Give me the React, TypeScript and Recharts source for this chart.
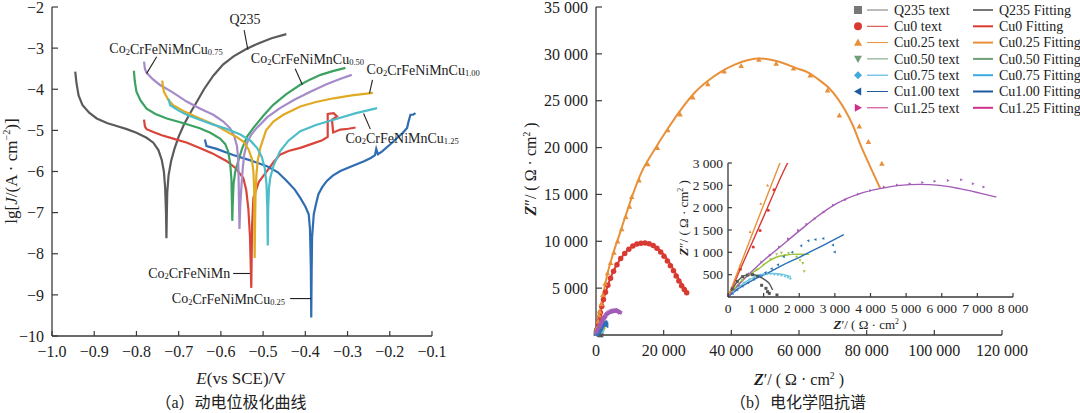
import React from "react";
import {
  ComposedChart,
  Line,
  Scatter,
  XAxis,
  YAxis,
  ReferenceLine,
  ReferenceDot,
} from "recharts";

const SERIF = '"Liberation Serif", "DejaVu Serif", serif';
const CJK = '"Liberation Serif", "Noto Sans CJK SC", serif';
const AX = "#3a3a3a";
const INK = "#222";

// ---------- (a) polarization curves: [E (V vs SCE), lg J] ----------
const E_TICKS = [-1.0, -0.9, -0.8, -0.7, -0.6, -0.5, -0.4, -0.3, -0.2, -0.1];
const LG_TICKS = [-10, -9, -8, -7, -6, -5, -4, -3, -2];

const q235Tafel = [
  [-0.945, -3.57], [-0.942, -3.85], [-0.937, -4.15], [-0.928, -4.38], [-0.912, -4.57],
  [-0.894, -4.71], [-0.87, -4.82], [-0.845, -4.9], [-0.823, -4.97], [-0.8, -5.06],
  [-0.776, -5.18], [-0.76, -5.3], [-0.748, -5.48], [-0.74, -5.72], [-0.735, -6.0],
  [-0.732, -6.4], [-0.73, -7.0], [-0.729, -7.62], [-0.728, -7.0], [-0.727, -6.5],
  [-0.724, -6.1], [-0.718, -5.75], [-0.71, -5.45], [-0.7, -5.15], [-0.688, -4.87],
  [-0.675, -4.62], [-0.66, -4.36], [-0.64, -4.0], [-0.618, -3.67], [-0.595, -3.4],
  [-0.57, -3.2], [-0.54, -3.02], [-0.51, -2.88], [-0.48, -2.76], [-0.445, -2.66],
];
const cu0Tafel = [
  [-0.782, -4.74], [-0.78, -4.9], [-0.776, -4.97], [-0.76, -5.04], [-0.74, -5.12],
  [-0.713, -5.2], [-0.68, -5.3], [-0.65, -5.43], [-0.62, -5.56], [-0.586, -5.75],
  [-0.565, -5.92], [-0.547, -6.16], [-0.54, -6.45], [-0.535, -6.9], [-0.531, -7.6],
  [-0.528, -8.83], [-0.527, -8.0], [-0.526, -7.3], [-0.523, -6.64], [-0.51, -6.25],
  [-0.491, -5.99], [-0.475, -5.77], [-0.46, -5.59], [-0.44, -5.5], [-0.41, -5.42],
  [-0.388, -5.34], [-0.36, -5.24], [-0.347, -5.16], [-0.347, -4.6], [-0.333, -4.58],
  [-0.325, -4.66], [-0.337, -4.74], [-0.334, -5.05], [-0.317, -4.98], [-0.298, -4.96],
  [-0.281, -4.93],
];
const cu025Tafel = [
  [-0.638, -5.22], [-0.634, -5.38], [-0.61, -5.45], [-0.571, -5.6], [-0.53, -5.73],
  [-0.491, -5.87], [-0.465, -6.02], [-0.444, -6.23], [-0.425, -6.44], [-0.412, -6.64],
  [-0.4, -6.85], [-0.392, -7.04], [-0.389, -7.4], [-0.387, -8.3], [-0.386, -9.55],
  [-0.385, -8.4], [-0.384, -7.6], [-0.38, -7.04], [-0.375, -6.8], [-0.369, -6.55],
  [-0.36, -6.38], [-0.349, -6.23], [-0.335, -6.1], [-0.317, -5.99], [-0.29, -5.87],
  [-0.261, -5.75], [-0.245, -5.67], [-0.235, -5.6], [-0.232, -5.45], [-0.228, -5.58],
  [-0.218, -5.51], [-0.2, -5.35], [-0.182, -5.18], [-0.17, -5.07], [-0.159, -4.94],
  [-0.156, -4.8], [-0.151, -4.62], [-0.145, -4.62], [-0.139, -4.58],
];
const cu050Tafel = [
  [-0.806, -3.55], [-0.804, -3.8], [-0.8, -4.06], [-0.79, -4.28], [-0.776, -4.47],
  [-0.755, -4.6], [-0.728, -4.71], [-0.69, -4.82], [-0.65, -4.95], [-0.625, -5.06],
  [-0.602, -5.2], [-0.59, -5.33], [-0.583, -5.5], [-0.578, -5.8], [-0.575, -6.2],
  [-0.574, -6.7], [-0.573, -7.2], [-0.572, -6.8], [-0.57, -6.3], [-0.566, -6.0],
  [-0.559, -5.75], [-0.55, -5.45], [-0.538, -5.15], [-0.523, -4.94], [-0.5, -4.65],
  [-0.476, -4.38], [-0.445, -4.12], [-0.412, -3.89], [-0.388, -3.76], [-0.364, -3.65],
  [-0.335, -3.56], [-0.305, -3.48],
];
const cu075Tafel = [
  [-0.782, -3.33], [-0.78, -3.5], [-0.776, -3.6], [-0.762, -3.75], [-0.745, -3.89],
  [-0.715, -4.07], [-0.681, -4.3], [-0.65, -4.47], [-0.618, -4.62], [-0.595, -4.78],
  [-0.578, -4.95], [-0.568, -5.15], [-0.562, -5.38], [-0.559, -5.7], [-0.558, -6.2],
  [-0.557, -6.8], [-0.556, -7.4], [-0.554, -6.8], [-0.551, -6.3], [-0.548, -5.9],
  [-0.545, -5.6], [-0.538, -5.3], [-0.528, -5.1], [-0.515, -4.94], [-0.49, -4.68],
  [-0.46, -4.46], [-0.425, -4.25], [-0.388, -4.06], [-0.35, -3.88], [-0.318, -3.75],
  [-0.29, -3.65],
];
const cu100Tafel = [
  [-0.739, -3.79], [-0.737, -3.95], [-0.735, -4.06], [-0.725, -4.25], [-0.713, -4.39],
  [-0.685, -4.55], [-0.65, -4.71], [-0.615, -4.86], [-0.586, -5.03], [-0.563, -5.16],
  [-0.547, -5.27], [-0.535, -5.45], [-0.527, -5.68], [-0.523, -6.0], [-0.521, -6.5],
  [-0.521, -7.2], [-0.52, -8.1], [-0.519, -7.2], [-0.518, -6.6], [-0.516, -6.1],
  [-0.513, -5.75], [-0.506, -5.4], [-0.493, -5.0], [-0.475, -4.78], [-0.452, -4.62],
  [-0.412, -4.42], [-0.375, -4.31], [-0.333, -4.22], [-0.29, -4.15], [-0.24, -4.09],
];
const cu125Tafel = [
  [-0.724, -4.23], [-0.722, -4.32], [-0.72, -4.39], [-0.7, -4.52], [-0.681, -4.62],
  [-0.65, -4.74], [-0.618, -4.86], [-0.585, -4.97], [-0.554, -5.1], [-0.53, -5.25],
  [-0.514, -5.43], [-0.503, -5.65], [-0.496, -5.92], [-0.492, -6.3], [-0.49, -6.9],
  [-0.489, -7.8], [-0.488, -6.9], [-0.486, -6.4], [-0.483, -6.15], [-0.475, -5.85],
  [-0.46, -5.51], [-0.44, -5.25], [-0.412, -5.02], [-0.375, -4.87], [-0.333, -4.74],
  [-0.28, -4.58], [-0.23, -4.46],
];

const TAFEL = [
  { key: "q235", rows: q235Tafel, color: "#5b5b5b" },
  { key: "cu0", rows: cu0Tafel, color: "#d9443b" },
  { key: "cu025", rows: cu025Tafel, color: "#2f6db3" },
  { key: "cu050", rows: cu050Tafel, color: "#3ba262" },
  { key: "cu075", rows: cu075Tafel, color: "#a68ac9" },
  { key: "cu100", rows: cu100Tafel, color: "#e0aa22" },
  { key: "cu125", rows: cu125Tafel, color: "#4cbdc9" },
];

// curve labels (anchor point in data units) and their leader lines
const TAFEL_LABELS = [
  { sub: "", text: "Q235", at: [-0.543, -2.31], anchor: "middle", lead: [[-0.545, -2.56], [-0.536, -3.04]] },
  { sub: "0.75", text: "Co2CrFeNiMnCu", at: [-0.73, -3.02], anchor: "middle", lead: [[-0.752, -3.21], [-0.776, -3.62]] },
  { sub: "0.50", text: "Co2CrFeNiMnCu", at: [-0.395, -3.26], anchor: "middle", lead: [[-0.424, -3.5], [-0.407, -3.89]] },
  { sub: "1.00", text: "Co2CrFeNiMnCu", at: [-0.255, -3.52], anchor: "start", lead: [[-0.241, -3.77], [-0.248, -4.1]] },
  { sub: "1.25", text: "Co2CrFeNiMnCu", at: [-0.305, -5.19], anchor: "start", lead: [[-0.262, -4.59], [-0.246, -4.97]] },
  { sub: "", text: "Co2CrFeNiMn", at: [-0.578, -8.48], anchor: "end", lead: [[-0.571, -8.48], [-0.531, -8.48]] },
  { sub: "0.25", text: "Co2CrFeNiMnCu", at: [-0.448, -9.09], anchor: "end", lead: [[-0.436, -9.09], [-0.386, -9.09]] },
];

// ---------- (b) Nyquist: [Z', Z''] in ohm cm2 ----------
const ZR_TICKS = [0, 20000, 40000, 60000, 80000, 100000, 120000];
const ZI_TICKS = [5000, 10000, 15000, 20000, 25000, 30000, 35000];
const IN_ZR_TICKS = [0, 1000, 2000, 3000, 4000, 5000, 6000, 7000, 8000];
const IN_ZI_TICKS = [500, 1000, 1500, 2000, 2500, 3000];

const q235Fit = [
  [0, 0], [100, 150], [220, 300], [364, 430], [500, 490], [692, 505], [850, 470],
  [972, 418], [1080, 360], [1159, 300], [1210, 230], [1252, 157],
];
const q235Test = [
  [120, 180], [260, 350], [411, 455], [551, 493], [690, 500], [830, 465], [944, 262],
  [1065, 194], [1112, 119], [1159, 82], [1374, 45],
];
const cu0Fit = [
  [0, 0], [500, 900], [1000, 1800], [1550, 2800], [2500, 4150], [3500, 5300], [5000, 6700],
  [6500, 7700], [8000, 8500], [10000, 9250], [12000, 9650], [14000, 9800], [16000, 9700],
  [18000, 9300], [20000, 8600], [22000, 7550], [24000, 6250], [25500, 5350], [26800, 4600],
];
const cu0Test = [
  [350, 620], [710, 1120], [900, 1490], [1130, 1940], [1290, 2400], [1700, 3050],
  [2200, 3800], [2800, 4550], [3500, 5300], [4300, 6050], [5200, 6800], [6200, 7500],
  [7300, 8150], [8500, 8700], [9700, 9150], [10900, 9500], [12100, 9700], [13300, 9800],
  [14500, 9820], [15700, 9750], [16900, 9550], [18000, 9250], [19100, 8850], [20100, 8400],
  [21100, 7900], [22000, 7400], [22900, 6850], [23700, 6300], [24500, 5750], [25300, 5250],
  [26100, 4850], [26800, 4500],
];
const cu025Fit = [
  [0, 0], [700, 1450], [1370, 2820], [2200, 4500], [3300, 6400], [5000, 8600], [7100, 10900],
  [9000, 13000], [10500, 14600], [13500, 17400], [17000, 19600], [21000, 21900],
  [25000, 24000], [29000, 25800], [33000, 27100], [37000, 28100], [41000, 28850],
  [45000, 29350], [48500, 29500], [52000, 29350], [55500, 29000], [59000, 28500],
  [63000, 27950], [66000, 27200], [69000, 26300], [71500, 25200], [73600, 24000],
  [76000, 22300], [78000, 20450], [81000, 18000], [84000, 15650],
];
const cu025Test = [
  [340, 710], [620, 1460], [920, 2090], [1110, 2500], [1500, 3300], [2000, 4300],
  [2700, 5500], [3400, 6600], [4300, 7700], [5300, 8800], [6400, 10000], [7600, 11300],
  [8800, 12600], [9900, 13700], [10560, 14750], [12720, 16520], [15290, 18230],
  [18140, 19970], [21220, 21860], [24850, 23560], [28600, 25370], [33040, 26790],
  [37870, 28150], [42900, 28720], [48130, 29400], [53250, 28970], [58370, 28470],
  [63310, 27720], [68430, 26120], [71920, 23450], [77830, 22280], [80520, 20610],
  [84480, 18300],
];
const cu050Fit = [
  [0, 0], [250, 250], [500, 450], [880, 640], [1100, 780], [1350, 890], [1600, 935],
  [1800, 955], [2050, 958], [2280, 955],
];
const cu050Test = [
  [200, 200], [400, 370], [600, 500], [800, 610], [1000, 720], [1200, 840], [1364, 955],
  [1500, 985], [1598, 932], [1700, 975], [1925, 895], [2020, 820], [2100, 755], [2140, 570],
];
const cu075Fit = [
  [0, 0], [250, 180], [505, 343], [700, 430], [879, 493], [1050, 520], [1252, 530],
  [1400, 522], [1533, 507], [1650, 485], [1766, 455],
];
const cu075Test = [
  [150, 110], [300, 230], [450, 320], [600, 390], [750, 450], [900, 490], [1000, 505],
  [1100, 515], [1200, 520], [1300, 510], [1400, 500], [1500, 485], [1600, 465],
  [1680, 440], [1750, 415],
];
const cu100Fit = [
  [0, 0], [300, 190], [700, 380], [1084, 522], [1550, 720], [2019, 895], [2400, 1050],
  [2766, 1194], [3252, 1395],
];
const cu100Test = [
  [120, 80], [250, 160], [400, 240], [560, 320], [720, 400], [880, 470], [1050, 550],
  [1220, 630], [1400, 720], [1560, 900], [1800, 1000], [2050, 1150], [2250, 1260],
  [2450, 1285], [2670, 1310], [2940, 1165], [2990, 1010],
];
const cu125Fit = [
  [0, 0], [450, 400], [897, 746], [1458, 1119], [2019, 1492], [2486, 1790], [3047, 2089],
  [3701, 2313], [4262, 2425], [4822, 2499], [5383, 2521], [5944, 2499], [6505, 2425],
  [7065, 2327], [7533, 2238],
];
const cu125Test = [
  [300, 260], [600, 520], [944, 783], [1178, 932], [1439, 1119], [1692, 1305],
  [1972, 1492], [2206, 1626], [2439, 1753], [2692, 1902], [2953, 2052], [3299, 2178],
  [3654, 2298], [4000, 2387], [4383, 2462], [4748, 2507], [5103, 2537], [5458, 2566],
  [5804, 2589], [6178, 2611], [6551, 2626], [6879, 2537], [7178, 2462],
];

const NYQ = [
  { name: "Q235", fit: q235Fit, test: q235Test, mark: "square", color: "#555555", legend: "#777777" },
  { name: "Cu0", fit: cu0Fit, test: cu0Test, mark: "circle", color: "#d83a32", legend: "#d83a32" },
  { name: "Cu0.25", fit: cu025Fit, test: cu025Test, mark: "up", color: "#e8903a", legend: "#e8903a" },
  { name: "Cu0.50", fit: cu050Fit, test: cu050Test, mark: "down", color: "#9cc43c", legend: "#6f9f79" },
  { name: "Cu0.75", fit: cu075Fit, test: cu075Test, mark: "diamond", color: "#6fc6e0", legend: "#3faae2" },
  { name: "Cu1.00", fit: cu100Fit, test: cu100Test, mark: "left", color: "#2b70b7", legend: "#1f5a9e" },
  { name: "Cu1.25", fit: cu125Fit, test: cu125Test, mark: "right", color: "#a25cb6", legend: "#d0308a" },
];

const toPts = (rows: number[][]) => rows.map(([x, y]) => ({ x, y }));

const fmtE = (v: number) => (v < 0 ? "\u2212" + Math.abs(v).toFixed(1) : v.toFixed(1));
const fmtLg = (v: number) => (v < 0 ? "\u2212" + Math.abs(v) : String(v));
const fmtK = (v: number) => String(v).replace(/\B(?=(\d{3})+(?!\d))/g, " ");

function Mark({ kind, cx, cy, s, fill }: any) {
  if (cx == null || cy == null) return null;
  const h = s / 2;
  switch (kind) {
    case "square":
      return <rect x={cx - h} y={cy - h} width={s} height={s} fill={fill} />;
    case "circle":
      return <circle cx={cx} cy={cy} r={h} fill={fill} />;
    case "up":
      return <polygon points={`${cx},${cy - h} ${cx + h},${cy + h * 0.8} ${cx - h},${cy + h * 0.8}`} fill={fill} />;
    case "down":
      return <polygon points={`${cx},${cy + h} ${cx + h},${cy - h * 0.8} ${cx - h},${cy - h * 0.8}`} fill={fill} />;
    case "diamond":
      return <polygon points={`${cx},${cy - h} ${cx + h},${cy} ${cx},${cy + h} ${cx - h},${cy}`} fill={fill} />;
    case "left":
      return <polygon points={`${cx - h},${cy} ${cx + h * 0.8},${cy - h} ${cx + h * 0.8},${cy + h}`} fill={fill} />;
    default:
      return <polygon points={`${cx + h},${cy} ${cx - h * 0.8},${cy - h} ${cx - h * 0.8},${cy + h}`} fill={fill} />;
  }
}

function CurveLabel({ cx, cy, item }: any) {
  const big = 14;
  const small = 8.5;
  const parts = item.text === "Q235" ? null : item.text.split("2");
  return (
    <text
      x={cx}
      y={cy}
      fontSize={big}
      fontFamily={SERIF}
      fill={INK}
      textAnchor={item.anchor}
      dominantBaseline="central"
    >
      {parts ? (
        <>
          {parts[0]}
          <tspan fontSize={small} dy={3}>2</tspan>
          <tspan dy={-3}>{parts[1]}</tspan>
          {item.sub ? <tspan fontSize={small} dy={3}>{item.sub}</tspan> : null}
        </>
      ) : (
        item.text
      )}
    </text>
  );
}

function Txt({ x, y, size, rotate, children, family }: any) {
  return (
    <div
      style={{
        position: "absolute",
        left: x,
        top: y,
        transform: `translate(-50%, -50%)${rotate ? ` rotate(${rotate}deg)` : ""}`,
        fontSize: size,
        fontFamily: family || SERIF,
        color: INK,
        whiteSpace: "nowrap",
        lineHeight: 1,
      }}
    >
      {children}
    </div>
  );
}

const Sup = ({ children }: any) => (
  <span style={{ fontSize: "0.6em", position: "relative", top: "-0.65em" }}>{children}</span>
);

const axisLine = { stroke: AX, strokeWidth: 1.3 };
const tickLine = { stroke: AX, strokeWidth: 1.2 };

function TafelChart() {
  const tick = { fill: INK, fontSize: 16, fontFamily: SERIF };
  return (
    <ComposedChart width={520} height={413} margin={{ top: 7, right: 88, bottom: 47, left: 12 }}>
      <XAxis
        type="number"
        dataKey="x"
        domain={[-1, -0.1]}
        ticks={E_TICKS}
        interval={0}
        tickFormatter={fmtE}
        height={30}
        tickSize={-5}
        tickMargin={15}
        axisLine={axisLine}
        tickLine={tickLine}
        tick={tick}
      />
      <YAxis
        type="number"
        dataKey="y"
        domain={[-10, -2]}
        ticks={LG_TICKS}
        interval={0}
        tickFormatter={fmtLg}
        width={40}
        tickSize={-6}
        tickMargin={14}
        axisLine={axisLine}
        tickLine={tickLine}
        tick={tick}
      />
      {TAFEL.map((s) => (
        <Line
          key={s.key}
          data={toPts(s.rows)}
          dataKey="y"
          type="linear"
          stroke={s.color}
          strokeWidth={2.2}
          dot={false}
          activeDot={false}
          isAnimationActive={false}
        />
      ))}
      {TAFEL_LABELS.map((l, i) => (
        <ReferenceLine
          key={"lead" + i}
          segment={[
            { x: l.lead[0][0], y: l.lead[0][1] },
            { x: l.lead[1][0], y: l.lead[1][1] },
          ]}
          stroke="#222"
          strokeWidth={1.1}
        />
      ))}
      {TAFEL_LABELS.map((l, i) => (
        <ReferenceDot
          key={"lab" + i}
          x={l.at[0]}
          y={l.at[1]}
          r={1}
          shape={(p: any) => <CurveLabel cx={p.cx} cy={p.cy} item={l} />}
        />
      ))}
    </ComposedChart>
  );
}

function NyquistSeries(s: any, size: number, fitWidth: number) {
  return [
    <Line
      key={s.name + "fit"}
      data={toPts(s.fit)}
      dataKey="y"
      type="monotone"
      stroke={s.color}
      strokeWidth={fitWidth}
      dot={false}
      activeDot={false}
      isAnimationActive={false}
    />,
    <Scatter
      key={s.name + "test"}
      data={toPts(s.test)}
      isAnimationActive={false}
      shape={(p: any) => <Mark kind={s.mark} cx={p.cx} cy={p.cy} s={size} fill={s.color} />}
    />,
  ];
}

function NyquistMain() {
  const tick = { fill: INK, fontSize: 16, fontFamily: SERIF };
  return (
    <ComposedChart width={560} height={413} margin={{ top: 7, right: 78, bottom: 48, left: 16 }}>
      <XAxis
        type="number"
        dataKey="x"
        domain={[0, 120000]}
        ticks={ZR_TICKS}
        interval={0}
        tickFormatter={fmtK}
        height={30}
        tickSize={-5}
        tickMargin={15}
        axisLine={axisLine}
        tickLine={tickLine}
        tick={tick}
      />
      <YAxis
        type="number"
        dataKey="y"
        domain={[0, 35000]}
        ticks={ZI_TICKS}
        interval={0}
        tickFormatter={fmtK}
        width={60}
        tickSize={-6}
        tickMargin={14}
        axisLine={axisLine}
        tickLine={tickLine}
        tick={tick}
      />
      {NYQ.flatMap((s) => NyquistSeries(s, 5.5, 2))}
    </ComposedChart>
  );
}

function NyquistInset() {
  const tick = { fill: INK, fontSize: 13.5, fontFamily: SERIF };
  return (
    <ComposedChart width={400} height={200} margin={{ top: 13, right: 67, bottom: 28, left: 8 }}>
      <XAxis
        type="number"
        dataKey="x"
        domain={[0, 8000]}
        ticks={IN_ZR_TICKS}
        interval={0}
        allowDataOverflow
        tickFormatter={fmtK}
        height={25}
        tickSize={-4}
        tickMargin={10}
        axisLine={axisLine}
        tickLine={tickLine}
        tick={tick}
      />
      <YAxis
        type="number"
        dataKey="y"
        domain={[0, 3000]}
        ticks={IN_ZI_TICKS}
        interval={0}
        allowDataOverflow
        tickFormatter={fmtK}
        width={40}
        tickSize={-4}
        tickMargin={9}
        axisLine={axisLine}
        tickLine={tickLine}
        tick={tick}
      />
      {NYQ.flatMap((s) => NyquistSeries(s, 3, 1.4))}
    </ComposedChart>
  );
}

function NyquistLegend() {
  const x0 = 850;
  return (
    <svg width={230} height={120} style={{ position: "absolute", left: x0, top: 0 }}>
      {NYQ.map((s, i) => {
        const y = 10 + i * 16.3;
        return (
          <g key={s.name} fontFamily={SERIF} fontSize={14} fill={INK}>
            <Mark kind={s.mark} cx={858 - x0} cy={y} s={8} fill={s.legend} />
            <line x1={867 - x0} x2={888 - x0} y1={y} y2={y} stroke={s.legend} strokeWidth={1} />
            <text x={894 - x0} y={y + 4.8}>{s.name} text</text>
            <line x1={973 - x0} x2={993 - x0} y1={y} y2={y} stroke={s.legend} strokeWidth={2} />
            <text x={999 - x0} y={y + 4.8}>{s.name} Fitting</text>
          </g>
        );
      })}
    </svg>
  );
}

export default function App() {
  return (
    <div
      style={{
        position: "absolute",
        left: 0,
        top: 0,
        width: 1080,
        height: 413,
        background: "#fff",
        overflow: "hidden",
      }}
    >
      <div style={{ position: "absolute", left: 0, top: 0 }}>
        <TafelChart />
      </div>
      <div style={{ position: "absolute", left: 520, top: 0 }}>
        <NyquistMain />
      </div>
      <div style={{ position: "absolute", left: 680, top: 150 }}>
        <NyquistInset />
      </div>
      <NyquistLegend />

      <Txt x={11} y={171} size={17} rotate={-90}>
        lg[<i>J</i>/(A · cm<Sup>−2</Sup>)]
      </Txt>
      <Txt x={241} y={378} size={17}>
        <i>E</i>(vs SCE)/V
      </Txt>
      <Txt x={231} y={403} size={16} family={CJK}>
        （a）动电位极化曲线
      </Txt>

      <Txt x={531} y={169} size={16} rotate={-90}>
        <b><i>Z</i></b>″/ ( Ω · cm<Sup>2</Sup> )
      </Txt>
      <Txt x={799} y={380} size={16}>
        <b><i>Z</i></b>′/ ( Ω · cm<Sup>2</Sup> )
      </Txt>
      <Txt x={798} y={403} size={16} family={CJK}>
        （b）电化学阻抗谱
      </Txt>

      <Txt x={683} y={218} size={13} rotate={-90}>
        <b><i>Z</i></b>″/ ( Ω · cm<Sup>2</Sup> )
      </Txt>
      <Txt x={870} y={324} size={13}>
        <b><i>Z</i></b>′/ ( Ω · cm<Sup>2</Sup> )
      </Txt>
    </div>
  );
}
